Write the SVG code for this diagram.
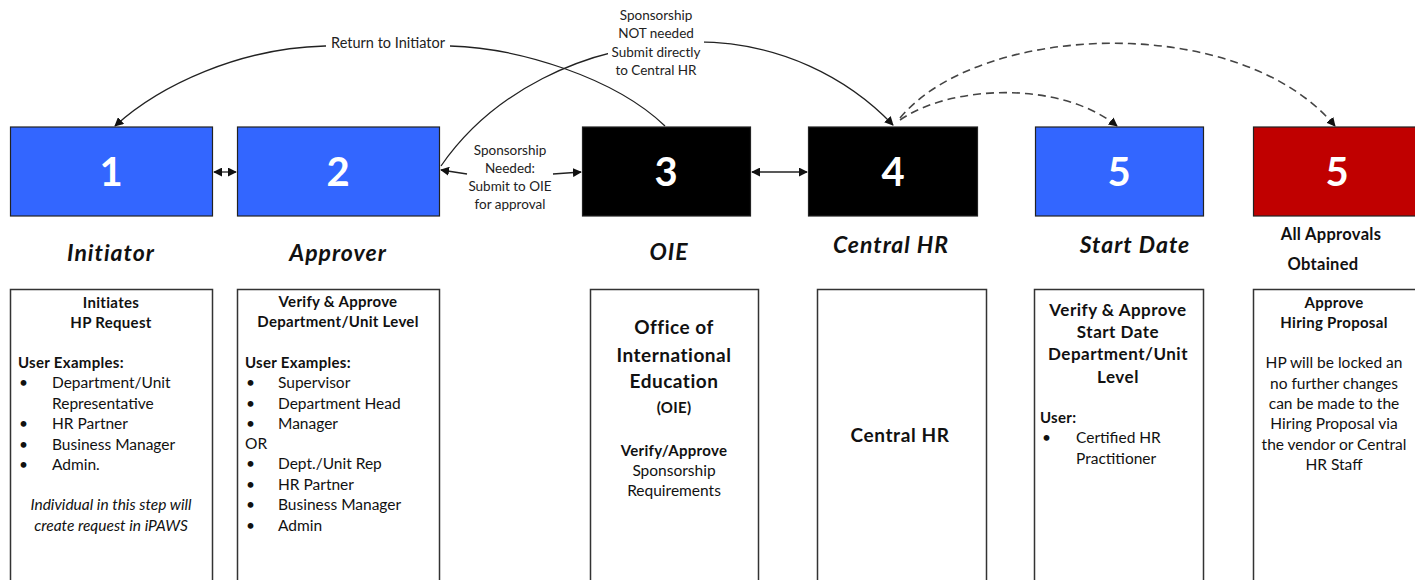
<svg xmlns="http://www.w3.org/2000/svg" width="1415" height="580" viewBox="0 0 1415 580">
  <defs>
    <marker id="arrow" viewBox="0 0 10 10" refX="9" refY="5" markerWidth="9" markerHeight="9" markerUnits="userSpaceOnUse" orient="auto-start-reverse">
      <path d="M0,0 L10,5 L0,10 z" fill="#111"/>
    </marker>
    <style>
      text { font-family: Lato, "Open Sans", "Liberation Sans", sans-serif; fill: #111; }
      .step { stroke: #222; stroke-width: 1.2; }
      .blue { fill: #3366ff; }
      .black { fill: #000; }
      .red { fill: #c00000; }
      .num { font-size: 40px; font-weight: bold; fill: #fff; text-anchor: middle; }
      .role { font-size: 23px; font-weight: bold; font-style: italic; text-anchor: middle; letter-spacing: 1px; }
      .card { fill: #fff; stroke: #333; stroke-width: 1.5; }
      .b { font-size: 15px; font-weight: bold; letter-spacing: 0.3px; }
      .r { font-size: 15.5px; }
      .c { text-anchor: middle; }
      .i { font-style: italic; }
      .note { font-size: 13.5px; text-anchor: middle; fill: #222; }
      .big { font-size: 19px; font-weight: bold; letter-spacing: 0.5px; }
      .mid { font-size: 17px; font-weight: bold; letter-spacing: 0.5px; }
      .link { fill: none; stroke: #222; stroke-width: 1.3; }
      .dash { fill: none; stroke: #444; stroke-width: 1.6; stroke-dasharray: 8 5; }
    </style>
  </defs>

  <!-- connectors -->
  <g id="connectors">
    <path class="link" d="M665 126 C615 78 520 48 450 46 L325 46 C240 48 160 85 115 126" marker-end="url(#arrow)"/>
    <path class="link" d="M441 166 C490 95 580 45 690 42 C780 40 850 80 893 125" marker-end="url(#arrow)"/>
    <path class="dash" d="M900 120 C950 85 1060 80 1117 126" marker-end="url(#arrow)"/>
    <path class="dash" d="M900 118 C980 22 1240 12 1335 126" marker-end="url(#arrow)"/>
    <line class="link" x1="214" y1="172" x2="236" y2="172" marker-start="url(#arrow)" marker-end="url(#arrow)"/>
    <line class="link" x1="752" y1="172" x2="807" y2="172" marker-start="url(#arrow)" marker-end="url(#arrow)"/>
    <line class="link" x1="467" y1="174" x2="441" y2="170" marker-end="url(#arrow)"/>
    <line class="link" x1="553" y1="174" x2="581" y2="172" marker-end="url(#arrow)"/>

    <!-- connector labels -->
    <rect x="326" y="34" width="124" height="16" fill="#fff"/>
    <text class="note" x="388" y="48" style="font-size:14.5px">Return to Initiator</text>
    <rect x="608" y="5" width="96" height="72" fill="#fff"/>
    <text class="note" x="656" y="20">Sponsorship</text>
    <text class="note" x="656" y="38">NOT needed</text>
    <text class="note" x="656" y="57">Submit directly</text>
    <text class="note" x="656" y="75">to Central HR</text>
    <text class="note" x="510" y="155">Sponsorship</text>
    <text class="note" x="510" y="173">Needed:</text>
    <text class="note" x="510" y="191">Submit to OIE</text>
    <text class="note" x="510" y="209">for approval</text>
  </g>

  <!-- step 1: initiator -->
  <g id="step-1">
    <rect class="step blue" x="10.5" y="127" width="202" height="89"/>
    <text class="num" x="111" y="186">1</text>
    <text class="role" x="111" y="261">Initiator</text>
    <rect class="card" x="10.5" y="289.5" width="202" height="300"/>
    <text class="b c" x="111" y="308">Initiates</text>
    <text class="b c" x="111" y="328">HP Request</text>
    <text class="b" x="18" y="368">User Examples:</text>
    <g class="r">
      <text x="19" y="388">•</text><text x="52" y="388">Department/Unit</text>
      <text x="52" y="409">Representative</text>
      <text x="19" y="429">•</text><text x="52" y="429">HR Partner</text>
      <text x="19" y="450">•</text><text x="52" y="450">Business Manager</text>
      <text x="19" y="470">•</text><text x="52" y="470">Admin.</text>
    </g>
    <text class="r c i" x="111" y="510">Individual in this step will</text>
    <text class="r c i" x="111" y="531">create request in iPAWS</text>
  </g>

  <!-- step 2: approver -->
  <g id="step-2">
    <rect class="step blue" x="237.5" y="127" width="202" height="89"/>
    <text class="num" x="338" y="186">2</text>
    <text class="role" x="338" y="261">Approver</text>
    <rect class="card" x="237.5" y="289.5" width="202" height="300"/>
    <text class="b c" x="338" y="307">Verify &amp; Approve</text>
    <text class="b c" x="338" y="327">Department/Unit Level</text>
    <text class="b" x="245" y="368">User Examples:</text>
    <g class="r">
      <text x="246" y="388">•</text><text x="278" y="388">Supervisor</text>
      <text x="246" y="409">•</text><text x="278" y="409">Department Head</text>
      <text x="246" y="429">•</text><text x="278" y="429">Manager</text>
      <text x="245" y="449">OR</text>
      <text x="246" y="469">•</text><text x="278" y="469">Dept./Unit Rep</text>
      <text x="246" y="490">•</text><text x="278" y="490">HR Partner</text>
      <text x="246" y="510">•</text><text x="278" y="510">Business Manager</text>
      <text x="246" y="531">•</text><text x="278" y="531">Admin</text>
    </g>
  </g>

  <!-- step 3: OIE -->
  <g id="step-3">
    <rect class="step black" x="582.5" y="127" width="168" height="89"/>
    <text class="num" x="666" y="186">3</text>
    <text class="role" x="669" y="260">OIE</text>
    <rect class="card" x="590.5" y="289.5" width="168" height="300"/>
    <text class="big c" x="674" y="334">Office of</text>
    <text class="big c" x="674" y="362">International</text>
    <text class="big c" x="674" y="388">Education</text>
    <text class="b c" x="674" y="413">(OIE)</text>
    <text class="b c" x="674" y="456">Verify/Approve</text>
    <text class="r c" x="674" y="476">Sponsorship</text>
    <text class="r c" x="674" y="496">Requirements</text>
  </g>

  <!-- step 4: central HR -->
  <g id="step-4">
    <rect class="step black" x="808.5" y="127" width="169" height="89"/>
    <text class="num" x="893" y="186">4</text>
    <text class="role" x="891" y="253">Central HR</text>
    <rect class="card" x="817.5" y="289.5" width="169" height="300"/>
    <text class="c" x="900" y="442" style="font-size:19px;font-weight:bold;letter-spacing:0.6px">Central HR</text>
  </g>

  <!-- step 5: start date -->
  <g id="step-5-start-date">
    <rect class="step blue" x="1035.5" y="127" width="168" height="89"/>
    <text class="num" x="1119" y="186">5</text>
    <text class="role" x="1135" y="253">Start Date</text>
    <rect class="card" x="1034.5" y="289.5" width="169" height="300"/>
    <g class="mid c">
      <text x="1118" y="316">Verify &amp; Approve</text>
      <text x="1118" y="338">Start Date</text>
      <text x="1118" y="360">Department/Unit</text>
      <text x="1118" y="383">Level</text>
    </g>
    <text class="b" x="1040" y="423">User:</text>
    <text class="r" x="1042" y="443">•</text><text class="r" x="1076" y="443">Certified HR</text>
    <text class="r" x="1076" y="464">Practitioner</text>
  </g>

  <!-- step 5: all approvals obtained -->
  <g id="step-5-approved">
    <rect class="step red" x="1253.5" y="127" width="170" height="89"/>
    <text class="num" x="1337" y="186">5</text>
    <text class="c" x="1331" y="240" style="font-size:16.5px;font-weight:bold;letter-spacing:0.3px">All Approvals</text>
    <text class="c" x="1323" y="270" style="font-size:16.5px;font-weight:bold;letter-spacing:0.3px">Obtained</text>
    <rect class="card" x="1253.5" y="289.5" width="170" height="300"/>
    <text class="b c" x="1334" y="308">Approve</text>
    <text class="b c" x="1334" y="328">Hiring Proposal</text>
    <g class="r c">
      <text x="1334" y="368">HP will be locked an</text>
      <text x="1334" y="389">no further changes</text>
      <text x="1334" y="409">can be made to the</text>
      <text x="1334" y="429">Hiring Proposal via</text>
      <text x="1334" y="450">the vendor or Central</text>
      <text x="1334" y="470">HR Staff</text>
    </g>
  </g>
</svg>
